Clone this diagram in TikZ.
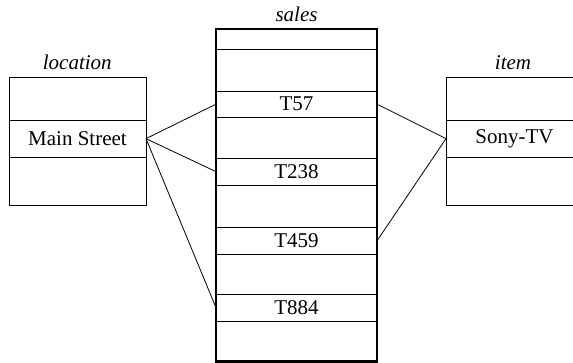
\documentclass[tikz,border=0pt]{standalone}
\usepackage{fontspec}
\setmainfont{Liberation Serif}
\begin{document}
\begin{tikzpicture}[x=1pt,y=-1pt,
  rowbox/.style={draw, line width=0.8pt, inner sep=0pt, outer sep=0pt, anchor=north west,
    font=\fontsize{21}{24}\selectfont},
  srow/.style={rowbox, minimum width=161pt},
  lrow/.style={rowbox, minimum width=137pt},
  title/.style={font=\fontsize{21}{24}\selectfont\itshape, inner sep=0pt},
  link/.style={line width=0.8pt}]
\useasboundingbox (0,0) rectangle (573,363);
\clip (0,0) rectangle (573,363);
% sales
\node[srow, minimum height=20.3pt] (s0) at (216,29) {};
\node[srow, minimum height=41.7pt] (s1) at (216,49.3) {};
\node[srow, minimum height=26.3pt] (t57) at (216,91) {T57};
\node[srow, minimum height=41pt] (s3) at (216,117.3) {};
\node[srow, minimum height=26.7pt] (t238) at (216,158.3) {T238};
\node[srow, minimum height=42.7pt] (s5) at (216,185) {};
\node[srow, minimum height=26.3pt] (t459) at (216,227.7) {T459};
\node[srow, minimum height=40.3pt] (s7) at (216,254) {};
\node[srow, minimum height=26.7pt] (t884) at (216,294.3) {T884};
\node[srow, minimum height=40.7pt] (s9) at (216,321) {};
\draw[line width=2.6pt] (s0.north west) rectangle (s9.south east);
\node[title] (salesT) at (296.5,14) {sales};
% location
\node[lrow, minimum height=42.6pt] (l0) at (9,77.7) {};
\node[lrow, minimum height=36.7pt] (main) at (9,120.3) {Main Street};
\node[lrow, minimum height=48pt] (l2) at (9,157) {};
\node[title] (locT) at (77.3,62.5) {location};
% item
\node[lrow, minimum height=42.6pt] (i0) at (446,77.7) {};
\node[lrow, minimum height=36.7pt] (sony) at (446,120.3) {Sony-TV};
\node[lrow, minimum height=48pt] (i2) at (446,157) {};
\node[title] (itemT) at (513,62.5) {item};
% links
\draw[link] (main.east) -- (t57.west);
\draw[link] (main.east) -- (t238.west);
\draw[link] (main.east) -- (t884.west);
\draw[link] (sony.west) -- (t57.east);
\draw[link] (sony.west) -- (t459.east);
\end{tikzpicture}
\end{document}
